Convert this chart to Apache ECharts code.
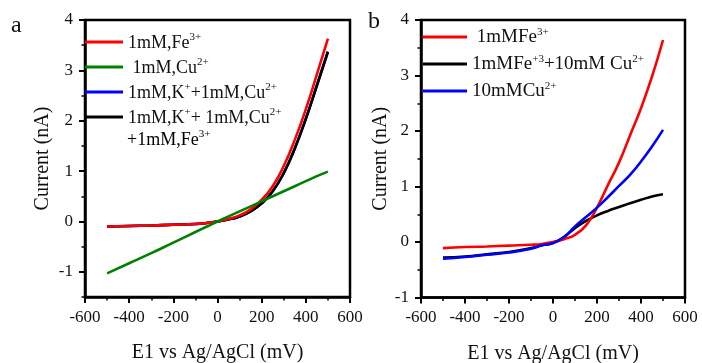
<!DOCTYPE html>
<html>
<head>
<meta charset="utf-8">
<script src="https://cdn.jsdelivr.net/npm/echarts@6/dist/echarts.min.js"></script>
<style>
html,body{margin:0;padding:0;background:#fff;}
#c{width:702px;height:363px;}
</style>
</head>
<body>
<div id="c"></div>
<script>
// ---- data (panel a) ----
var voltA = [-500,-400,-300,-200,-100,-50,0,50,100,150,200,250,300,350,400,450,500];
var fe3A  = [-0.10,-0.09,-0.08,-0.065,-0.05,-0.03,0.0,0.05,0.12,0.24,0.43,0.70,1.10,1.62,2.23,2.92,3.63];
var cu2A  = [-1.03,-0.83,-0.63,-0.42,-0.21,-0.105,0.0,0.10,0.20,0.30,0.40,0.50,0.60,0.70,0.80,0.90,0.99];
var kCuA  = [-0.10,-0.09,-0.08,-0.065,-0.05,-0.03,0.0,0.04,0.10,0.20,0.36,0.60,0.96,1.45,2.04,2.70,3.37];
var kCuFeA= [-0.10,-0.09,-0.08,-0.065,-0.05,-0.03,0.0,0.04,0.10,0.20,0.36,0.60,0.96,1.45,2.04,2.70,3.37];
// ---- data (panel b) ----
var voltB = [-500,-400,-300,-200,-100,-50,0,50,100,150,200,250,300,350,400,450,500];
var fe3B  = [-0.11,-0.09,-0.08,-0.065,-0.05,-0.035,0.0,0.05,0.13,0.30,0.62,1.03,1.43,1.92,2.41,2.98,3.64];
var feCuB = [-0.28,-0.26,-0.22,-0.18,-0.11,-0.06,-0.02,0.09,0.25,0.38,0.48,0.56,0.63,0.70,0.76,0.82,0.86];
var cu10B = [-0.30,-0.27,-0.23,-0.19,-0.12,-0.06,-0.02,0.09,0.28,0.45,0.62,0.81,1.01,1.21,1.45,1.72,2.02];
// ---- tick labels ----
var xTicks = [-600,-400,-200,0,200,400,600];
var yTicksA = [-1,0,1,2,3,4];
var yTicksB = [-1,0,1,2,3,4];

function pairs(xs, ys){ return xs.map(function(x,i){return [x, ys[i]];}); }

var FONT = 'Liberation Serif';
var legendTextA = {
  'a1': '{n|1mM,Fe}{s|3+}',
  'a2': '{n| 1mM,Cu}{s|2+}',
  'a3': '{n|1mM,K}{s|+}{n|+1mM,Cu}{s|2+}',
  'a4': '{n|1mM,K}{s|+}{n|+ 1mM,Cu}{s|2+}'
};
var legendTextB = {
  'b1': '{n| 1mMFe}{s|3+}',
  'b2': '{n|1mMFe}{s|+3}{n|+10mM Cu}{s|2+}',
  'b3': '{n|10mMCu}{s|2+}'
};
function rich(fs){
  return {
    n:{fontFamily:FONT,fontSize:fs,color:'#111',lineHeight:20,verticalAlign:'bottom'},
    s:{fontFamily:FONT,fontSize:Math.round(fs*0.6),color:'#111',lineHeight:20,verticalAlign:'top'}
  };
}

var axisLineStyle = {color:'#000', width:2.5};
var labelStyle = {fontFamily:FONT, fontSize:17, color:'#111', fontWeight:'normal'};
function xAxisFor(grid){
  return {
    gridIndex:grid, type:'value', min:-600, max:600, interval:200,
    axisLine:{show:true,onZero:false,lineStyle:axisLineStyle},
    axisTick:{show:true,length:6,lineStyle:{color:'#000',width:2}},
    minorTick:{show:true,splitNumber:2,length:3.5,lineStyle:{color:'#000',width:1.5}},
    splitLine:{show:false},
    axisLabel:Object.assign({margin:12,
      formatter:function(v){return xTicks.indexOf(v)>=0?String(v):'';}}, labelStyle),
    name:'E1 vs Ag/AgCl (mV)', nameLocation:'middle', nameGap:46,
    nameTextStyle:{fontFamily:FONT,fontSize:20,color:'#111'}
  };
}

var option = {
  animation:false,
  backgroundColor:'#fff',
  textStyle:{fontFamily:FONT},
  grid:[
    {left:85, top:20, right:352, bottom:66, outerBoundsMode:'none', containLabel:false, show:true, borderColor:'#000', borderWidth:2.5, backgroundColor:'transparent'},
    {left:421, top:20, right:17, bottom:65.5, outerBoundsMode:'none', containLabel:false, show:true, borderColor:'#000', borderWidth:2.5, backgroundColor:'transparent'}
  ],
  xAxis:[ xAxisFor(0), xAxisFor(1) ],
  yAxis:[
    { gridIndex:0, type:'value', position:'left', min:-1.5, max:4, interval:0.5,
      axisLine:{show:true,onZero:false,lineStyle:axisLineStyle},
      axisTick:{show:true,length:3.5,lineStyle:{color:'#000',width:1.5}},
      splitLine:{show:false},
      axisLabel:Object.assign({margin:12,
        formatter:function(v){return yTicksA.indexOf(v)>=0?String(v):'';}}, labelStyle),
      name:'Current (nA)', nameLocation:'middle', nameGap:32,
      nameTextStyle:{fontFamily:FONT,fontSize:20,color:'#111'}
    },
    { gridIndex:0, type:'value', position:'left', offset:0, min:-1.5, max:4, interval:0.5,
      axisLine:{show:false,onZero:false}, splitLine:{show:false}, axisLabel:{show:false},
      axisTick:{show:true,length:6,customValues:yTicksA,lineStyle:{color:'#000',width:2}}
    },
    { gridIndex:1, type:'value', position:'left', min:-1, max:4, interval:1,
      axisLine:{show:true,onZero:false,lineStyle:axisLineStyle},
      axisTick:{show:true,length:6,lineStyle:{color:'#000',width:2}},
      minorTick:{show:true,splitNumber:2,length:3.5,lineStyle:{color:'#000',width:1.5}},
      splitLine:{show:false},
      axisLabel:Object.assign({margin:12,
        formatter:function(v){return yTicksB.indexOf(v)>=0?String(v):'';}}, labelStyle),
      name:'Current (nA)', nameLocation:'middle', nameGap:28,
      nameTextStyle:{fontFamily:FONT,fontSize:20,color:'#111'}
    }
  ],
  legend:[
    { data:['a1','a2','a3','a4'], orient:'vertical', left:85, top:32, itemGap:5, padding:0,
      icon:'rect', itemWidth:38, itemHeight:3,
      formatter:function(n){return legendTextA[n];},
      textStyle:{fontFamily:FONT,fontSize:18,color:'#111',rich:rich(18)}
    },
    { data:['b1','b2','b3'], orient:'vertical', left:423, top:27, itemGap:7, padding:0,
      icon:'rect', itemWidth:44, itemHeight:3,
      formatter:function(n){return legendTextB[n];},
      textStyle:{fontFamily:FONT,fontSize:19,color:'#111',rich:rich(19)}
    }
  ],
  graphic:[
    {type:'text', left:11, top:14, style:{text:'a', font:'24px "Liberation Serif"', fill:'#111'}},
    {type:'text', left:368, top:10, style:{text:'b', font:'24px "Liberation Serif"', fill:'#111'}},
    {type:'text', left:127, top:129, style:{
      text:'{n|+1mM,Fe}{s|3+}',
      rich:rich(18)}}
  ],
  series:[
    {name:'a3', type:'line', xAxisIndex:0, yAxisIndex:0, data:pairs(voltA,kCuA), smooth:true, showSymbol:false, color:'#0000ff', lineStyle:{width:2.6}},
    {name:'a4', type:'line', xAxisIndex:0, yAxisIndex:0, data:pairs(voltA,kCuFeA), smooth:true, showSymbol:false, color:'#000000', lineStyle:{width:2.6}},
    {name:'a1', type:'line', xAxisIndex:0, yAxisIndex:0, data:pairs(voltA,fe3A), smooth:true, showSymbol:false, color:'#ff0000', lineStyle:{width:2.6}},
    {name:'a2', type:'line', xAxisIndex:0, yAxisIndex:0, data:pairs(voltA,cu2A), smooth:true, showSymbol:false, color:'#008000', lineStyle:{width:2.6}},
    {name:'b2', type:'line', xAxisIndex:1, yAxisIndex:2, data:pairs(voltB,feCuB), smooth:true, showSymbol:false, color:'#000000', lineStyle:{width:2.6}},
    {name:'b1', type:'line', xAxisIndex:1, yAxisIndex:2, data:pairs(voltB,fe3B), smooth:true, showSymbol:false, color:'#ff0000', lineStyle:{width:2.6}},
    {name:'b3', type:'line', xAxisIndex:1, yAxisIndex:2, data:pairs(voltB,cu10B), smooth:true, showSymbol:false, color:'#0000ff', lineStyle:{width:2.6}}
  ]
};
var chart = echarts.init(document.getElementById('c'), null, {renderer:'canvas'});
chart.setOption(option);
</script>
</body>
</html>
